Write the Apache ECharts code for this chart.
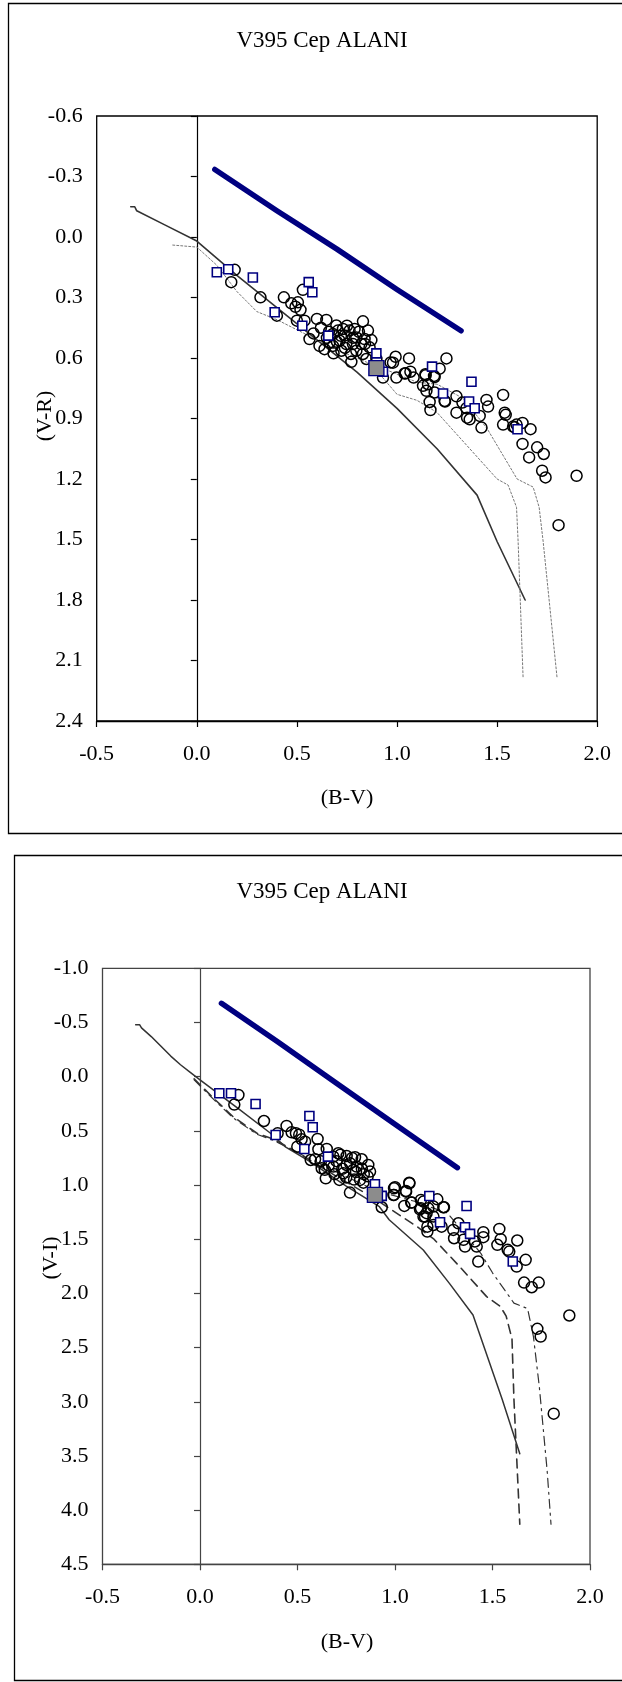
<!DOCTYPE html>
<html>
<head>
<meta charset="utf-8">
<script src="https://cdn.jsdelivr.net/npm/echarts@6/dist/echarts.min.js"></script>
<style>html,body{margin:0;padding:0;background:#fff}#c{width:622px;height:1682px}</style>
</head>
<body>
<div id="c"></div>
<script>
// ---------- data ----------
const titleText = 'V395 Cep ALANI';
const xName = '(B-V)';
const yName1 = '(V-R)';
const yName2 = '(V-I)';

// Chart 1: (B-V) vs (V-R)
const c1Blue = [[0.09,-0.335],[0.40,-0.13],[0.70,0.06],[1.00,0.26],[1.32,0.465]];
const c1Solid = [[-0.33,-0.15],[-0.31,-0.15],[-0.30,-0.13],[-0.16,-0.06],[0.0,0.02],[0.2,0.19],[0.4,0.35],[0.6,0.51],[0.8,0.67],[1.0,0.85],[1.2,1.05],[1.40,1.28],[1.50,1.51],[1.64,1.80]];
const c1DotA = [[-0.12,0.04],[0.0,0.05],[0.1,0.14],[0.2,0.27],[0.3,0.37],[0.4,0.41],[0.5,0.46],[0.6,0.51],[0.7,0.56],[0.8,0.60],[0.87,0.63],[1.0,0.78],[1.1,0.81],[1.2,0.87],[1.5,1.20],[1.555,1.23],[1.597,1.34],[1.605,1.51],[1.63,2.19]];
const c1DotB = [[0.87,0.63],[0.95,0.66],[1.1,0.72],[1.2,0.73],[1.33,0.80],[1.45,0.95],[1.60,1.20],[1.68,1.24],[1.71,1.34],[1.73,1.51],[1.80,2.19]];
const c1Circles = [
 [0.189,0.163],[0.172,0.224],[0.318,0.299],[0.435,0.299],[0.472,0.329],[0.505,0.324],[0.493,0.346],[0.518,0.361],[0.530,0.262],
 [0.400,0.390],[0.500,0.415],[0.538,0.415],[0.563,0.506],[0.600,0.406],[0.647,0.411],[0.583,0.478],[0.613,0.540],[0.638,0.556],
 [0.683,0.577],[0.697,0.439],[0.730,0.456],[0.763,0.464],[0.788,0.456],[0.830,0.418],[0.855,0.464],[0.872,0.511],[0.863,0.547],
 [0.772,0.619],[0.713,0.514],[0.747,0.531],[0.797,0.498],[0.822,0.531],[0.680,0.481],[0.663,0.522],[0.722,0.564],[0.797,0.564],
 [0.830,0.580],[0.847,0.605],[0.705,0.464],[0.738,0.489],[0.780,0.531],[0.838,0.506],[0.62,0.45],[0.66,0.47],[0.72,0.49],
 [0.75,0.44],[0.78,0.50],[0.81,0.47],[0.84,0.53],[0.68,0.54],[0.74,0.55],[0.77,0.58],[0.65,0.50],[0.70,0.52],
 [0.897,0.605],[0.968,0.622],[0.993,0.594],[1.060,0.602],[0.997,0.697],[1.038,0.677],[1.067,0.668],[1.083,0.697],[0.930,0.697],
 [1.143,0.686],[1.188,0.694],[1.213,0.653],[1.247,0.602],[1.130,0.738],[1.155,0.730],[1.188,0.771],[1.238,0.813],[1.163,0.818],[1.167,0.858],
 [0.980,0.623],[1.043,0.676],[1.142,0.680],[1.185,0.689],[1.147,0.763],[1.240,0.816],[1.297,0.790],[1.327,0.821],[1.297,0.871],
 [1.347,0.849],[1.350,0.896],[1.363,0.904],[1.413,0.887],[1.422,0.945],[1.447,0.808],[1.455,0.841],[1.530,0.783],[1.538,0.871],
 [1.543,0.882],[1.530,0.930],[1.580,0.940],[1.588,0.944],[1.597,0.930],[1.627,0.922],[1.667,0.953],[1.627,1.026],[1.700,1.043],
 [1.733,1.076],[1.660,1.093],[1.725,1.159],[1.742,1.192],[1.897,1.184],[1.807,1.429]
];
const c1Squares = [[0.100,0.175],[0.157,0.160],[0.280,0.201],[0.559,0.224],[0.577,0.274],[0.389,0.373],[0.527,0.440],[0.657,0.489],
 [0.897,0.577],[0.930,0.668],[1.175,0.643],[1.230,0.776],[1.372,0.718],[1.360,0.816],[1.388,0.849],[1.602,0.953]];
const c1Gray = [[0.897,0.650]];

// Chart 2: (B-V) vs (V-I)
const c2Blue = [[0.11,-0.677],[0.40,-0.32],[0.70,0.06],[1.00,0.44],[1.32,0.84]];
const c2Solid = [[-0.33,-0.48],[-0.31,-0.48],[-0.30,-0.45],[-0.25,-0.37],[-0.20,-0.28],[-0.15,-0.19],[-0.10,-0.11],[-0.05,-0.04],[0.0,0.03],[0.2,0.30],[0.36,0.52],[0.44,0.65],[0.56,0.78],[0.75,1.01],[0.92,1.20],[0.97,1.32],[1.145,1.60],[1.28,1.91],[1.40,2.20],[1.55,2.98],[1.64,3.48]];
const c2Dash = [[-0.03,0.02],[0.07,0.20],[0.17,0.37],[0.29,0.52],[0.38,0.58],[0.5,0.70],[0.7,0.92],[0.9,1.13],[1.0,1.25],[1.11,1.38],[1.2,1.50],[1.33,1.75],[1.47,2.03],[1.54,2.12],[1.57,2.21],[1.60,2.42],[1.61,2.98],[1.64,4.13]];
const c2DashDot = [[-0.03,0.03],[0.07,0.21],[0.17,0.38],[0.29,0.53],[0.38,0.59],[0.5,0.70],[0.7,0.88],[0.9,1.05],[1.1,1.15],[1.27,1.26],[1.44,1.63],[1.5,1.81],[1.61,2.09],[1.68,2.14],[1.71,2.40],[1.74,2.86],[1.78,3.63],[1.80,4.13]];
const c2Circles = [
 [0.197,0.169],[0.176,0.258],[0.328,0.409],[0.444,0.455],[0.470,0.514],[0.492,0.523],[0.509,0.535],[0.521,0.578],[0.499,0.646],
 [0.539,0.600],[0.603,0.575],[0.398,0.523],[0.607,0.670],[0.650,0.667],[0.568,0.769],[0.590,0.762],[0.624,0.845],[0.645,0.938],
 [0.684,0.738],[0.709,0.707],[0.752,0.732],[0.795,0.744],[0.829,0.762],[0.863,0.815],[0.872,0.876],[0.715,0.953],[0.769,1.070],
 [0.735,0.892],[0.786,0.861],[0.821,0.953],[0.684,0.830],[0.838,0.978],[0.803,0.830],[0.752,0.815],
 [0.62,0.78],[0.66,0.82],[0.70,0.78],[0.73,0.85],[0.77,0.80],[0.80,0.88],[0.83,0.85],[0.86,0.92],[0.69,0.90],[0.75,0.93],
 [0.79,0.95],[0.84,0.90],[0.64,0.86],[0.72,0.72],[0.78,0.75],
 [0.932,1.205],[0.995,1.030],[0.995,1.091],[1.056,1.054],[1.073,0.978],[1.048,1.193],[1.083,1.162],[1.133,1.138],[1.133,1.215],
 [1.154,1.292],[1.171,1.215],[1.197,1.199],[1.217,1.132],[1.251,1.205],[1.166,1.430],[1.166,1.384],[1.197,1.369],
 [1.000,1.020],[1.074,0.984],[1.057,1.061],[0.992,1.092],[1.086,1.162],[1.146,1.153],[1.128,1.224],[1.248,1.205],[1.162,1.260],
 [1.197,1.291],[1.146,1.291],[1.239,1.384],[1.325,1.353],[1.299,1.414],[1.303,1.491],[1.351,1.506],[1.359,1.568],[1.410,1.521],
 [1.419,1.568],[1.453,1.435],[1.453,1.481],[1.427,1.706],[1.535,1.405],[1.542,1.500],[1.525,1.552],[1.627,1.512],[1.578,1.598],
 [1.586,1.614],[1.670,1.690],[1.624,1.752],[1.662,1.900],[1.701,1.943],[1.737,1.900],[1.894,2.204],[1.730,2.327],[1.747,2.398],[1.814,3.11]
];
const c2Squares = [[0.099,0.153],[0.159,0.153],[0.285,0.252],[0.561,0.363],[0.578,0.467],[0.388,0.538],[0.535,0.667],[0.656,0.738],
 [0.897,0.993],[0.932,1.100],[1.176,1.101],[1.231,1.343],[1.367,1.193],[1.359,1.390],[1.385,1.451],[1.604,1.706]];
const c2Gray = [[0.897,1.091]];

const xTicks = {min:-0.5, max:2.0, step:0.5};
const y1Ticks = {min:-0.6, max:2.4, step:0.3};
const y2Ticks = {min:-1.0, max:4.5, step:0.5};

// ---------- chart ----------
const FONT = '"Liberation Serif", "DejaVu Serif", serif';
const chart = echarts.init(document.getElementById('c'), null, {renderer:'canvas'});

function xAxis(gi, col){
  return {gridIndex:gi, type:'value', min:xTicks.min, max:xTicks.max, interval:xTicks.step,
    axisLine:{onZero:false, lineStyle:{color:col, width:1.3}},
    axisTick:{show:true, inside:false, length:6, lineStyle:{color:col, width:1.2}},
    axisLabel:{margin:22, color:'#000', fontFamily:FONT, fontSize:22, hideOverlap:false, formatter:v=>v.toFixed(1)},
    splitLine:{show:false}};
}
function yAxis(gi, t, col){
  return {gridIndex:gi, type:'value', inverse:true, min:t.min, max:t.max, interval:t.step,
    axisLine:{onZero:true, lineStyle:{color:col, width:1.2}},
    axisTick:{show:true, inside:false, length:6, lineStyle:{color:col, width:1.2}},
    axisLabel:{margin:14, color:'#000', fontFamily:FONT, fontSize:22, hideOverlap:false, formatter:v=>v.toFixed(1)},
    splitLine:{show:false}};
}
function lineS(gi, data, color, width, type, z){
  return {type:'line', xAxisIndex:gi, yAxisIndex:gi, data:data, showSymbol:false, symbol:'none',
    lineStyle:{color:color, width:width, type:type, cap:'round', join:'round'}, z:z, animation:false, silent:true};
}
function scat(gi, data, symbol, size, fill, stroke, bw, z){
  return {type:'scatter', xAxisIndex:gi, yAxisIndex:gi, data:data, symbol:symbol, symbolSize:size,
    itemStyle:{color:fill, borderColor:stroke, borderWidth:bw, opacity:1}, z:z, animation:false, silent:true};
}
function txt(x, y, s, size, rot){
  const o = {type:'text', x:x, y:y, style:{text:s, font:size+'px '+FONT, fill:'#000', textAlign:'center', textVerticalAlign:'middle', align:'center', verticalAlign:'middle'}, silent:true};
  if (rot) o.rotation = rot;
  return o;
}
const NAVY = '#000080';

const option = {
  animation:false,
  grid:[
    {left:96.7, top:116, width:500.5, height:605, show:true, borderColor:'#000', borderWidth:1.3, backgroundColor:'transparent', containLabel:false},
    {left:102.5, top:968.3, width:487.5, height:596, show:true, borderColor:'#444', borderWidth:1.3, backgroundColor:'transparent', containLabel:false}
  ],
  xAxis:[xAxis(0,'#000'), xAxis(1,'#444')],
  yAxis:[yAxis(0,y1Ticks,'#000'), yAxis(1,y2Ticks,'#444')],
  series:[
    lineS(0, c1Blue, NAVY, 5.5, 'solid', 3),
    lineS(0, c1Solid, '#333', 1.6, 'solid', 2),
    lineS(0, c1DotA, '#777', 1, [2,2], 2),
    lineS(0, c1DotB, '#777', 1, [2,2], 2),
    scat(0, c1Circles, 'circle', 11, 'rgba(0,0,0,0)', '#000', 1.5, 4),
    scat(0, c1Squares, 'rect', 9, '#fff', NAVY, 1.6, 5),
    scat(0, c1Gray, 'rect', 15, '#8c8c8c', NAVY, 1.4, 6),

    lineS(1, c2Blue, NAVY, 5.5, 'solid', 3),
    lineS(1, c2Solid, '#333', 1.5, 'solid', 2),
    lineS(1, c2Dash, '#333', 1.6, [9,6], 2),
    lineS(1, c2DashDot, '#333', 1.2, [9,5,2,5], 2),
    scat(1, c2Circles, 'circle', 11, 'rgba(0,0,0,0)', '#000', 1.5, 4),
    scat(1, c2Squares, 'rect', 9, '#fff', NAVY, 1.6, 5),
    scat(1, c2Gray, 'rect', 15, '#8c8c8c', NAVY, 1.4, 6)
  ],
  graphic:[
    {type:'rect', shape:{x:8.5, y:3.5, width:700, height:830}, style:{fill:'none', stroke:'#000', lineWidth:1.3}, z:0, silent:true},
    {type:'rect', shape:{x:14.5, y:855.5, width:700, height:825}, style:{fill:'none', stroke:'#000', lineWidth:1.3}, z:0, silent:true},
    txt(322, 41, titleText, 23),
    txt(322, 892, titleText, 23),
    txt(347, 798, xName, 22),
    txt(347, 1642, xName, 22),
    txt(45, 416, yName1, 22, Math.PI/2),
    txt(51, 1258, yName2, 22, Math.PI/2)
  ]
};
chart.setOption(option);
</script>
</body>
</html>
